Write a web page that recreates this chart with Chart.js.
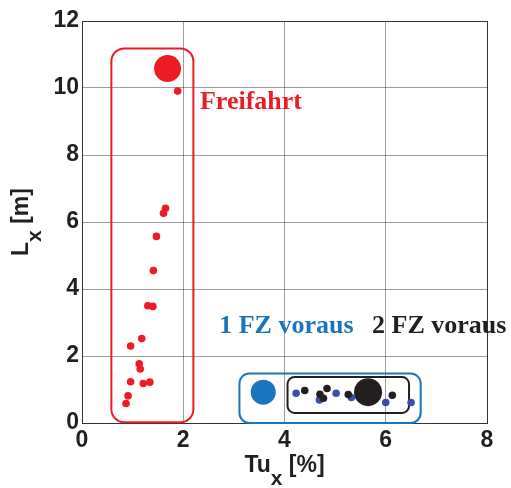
<!DOCTYPE html>
<html>
<head>
<meta charset="utf-8">
<script src="https://cdn.jsdelivr.net/npm/chart.js@4.4.1/dist/chart.umd.min.js"></script>
<style>
  html, body { margin: 0; padding: 0; background: #fff; }
</style>
</head>
<body>
<canvas id="scatter" width="511" height="488"></canvas>
<script>
// --- Data ---
const xTicks = [0, 2, 4, 6, 8];
const yTicks = [0, 2, 4, 6, 8, 10, 12];

// Freifahrt
const freeX = [1.89, 1.65, 1.61, 1.47, 1.41, 1.30, 1.40, 1.18, 0.96, 1.13, 1.15, 0.96, 1.21, 1.34, 0.91, 0.87];
const freeY = [9.91, 6.41, 6.26, 5.57, 4.55, 3.50, 3.48, 2.52, 2.30, 1.77, 1.61, 1.23, 1.18, 1.22, 0.81, 0.58];
const freeMean = [1.69, 10.58];

// 1 FZ voraus
const oneX = [4.23, 4.69, 5.02, 5.32, 6.00, 6.50];
const oneY = [0.89, 0.69, 0.89, 0.76, 0.61, 0.61];
const oneMean = [3.58, 0.92];

// 2 FZ voraus
const twoX = [4.40, 4.84, 4.70, 4.77, 5.26, 6.13];
const twoY = [0.97, 1.03, 0.86, 0.74, 0.85, 0.83];
const twoMean = [5.65, 0.92];

// group frames [xMin, xMax, yMin, yMax]
const freeBox = [0.58, 2.20, 0.02, 11.18];
const oneBox = [3.11, 6.69, 0.00, 1.48];
const twoBox = [4.06, 6.46, 0.30, 1.37];

// label anchors [x, y] (left, baseline)
const freeLabel = [2.33, 9.37];
const oneLabel = [2.71, 2.69];
const twoLabel = [5.73, 2.70];

const RED = '#ED1C24';
const BLUE = '#1B75BC';
const DOTBLUE = '#3950A6';
const BLACK = '#231F20';

function toPoints(xs, ys) {
    return xs.map((x, i) => ({ x: x, y: ys[i] }));
}

function roundRect(ctx, x, y, w, h, r) {
    ctx.beginPath();
    ctx.moveTo(x + r, y);
    ctx.lineTo(x + w - r, y);
    ctx.arcTo(x + w, y, x + w, y + r, r);
    ctx.lineTo(x + w, y + h - r);
    ctx.arcTo(x + w, y + h, x + w - r, y + h, r);
    ctx.lineTo(x + r, y + h);
    ctx.arcTo(x, y + h, x, y + h - r, r);
    ctx.lineTo(x, y + r);
    ctx.arcTo(x, y, x + r, y, r);
    ctx.closePath();
}

// --- frames around the groups, behind the points ---
const framesPlugin = {
    id: 'frames',
    beforeDatasetsDraw(chart) {
        const { ctx, scales: { x, y } } = chart;
        const frames = [[freeBox, RED, 13], [oneBox, BLUE, 10], [twoBox, BLACK, 7]];
        ctx.save();
        ctx.lineWidth = 2;
        frames.forEach(([b, color, r]) => {
            const left = x.getPixelForValue(b[0]);
            const right = x.getPixelForValue(b[1]);
            const bottom = y.getPixelForValue(b[2]);
            const top = y.getPixelForValue(b[3]);
            ctx.strokeStyle = color;
            roundRect(ctx, left, top, right - left, bottom - top, r);
            ctx.stroke();
        });
        ctx.restore();
    }
};

// --- group labels and axis titles with subscripts ---
function drawRich(ctx, parts, size, subSize, subDrop) {
    let total = 0;
    parts.forEach(p => {
        ctx.font = 'bold ' + (p.sub ? subSize : size) + 'px "Liberation Sans", Arial, sans-serif';
        p.w = ctx.measureText(p.t).width;
        total += p.w;
    });
    let cx = -total / 2;
    parts.forEach(p => {
        ctx.font = 'bold ' + (p.sub ? subSize : size) + 'px "Liberation Sans", Arial, sans-serif';
        ctx.fillText(p.t, cx, p.sub ? subDrop : 0);
        cx += p.w;
    });
}

const textPlugin = {
    id: 'texts',
    afterDraw(chart) {
        const { ctx, chartArea, scales: { x, y } } = chart;
        ctx.save();
        ctx.textBaseline = 'alphabetic';
        ctx.textAlign = 'left';
        ctx.font = 'bold 26px "Liberation Serif", "Times New Roman", serif';
        [[freeLabel, 'Freifahrt', RED], [oneLabel, '1 FZ voraus', BLUE], [twoLabel, '2 FZ voraus', BLACK]]
            .forEach(([pos, txt, color]) => {
                ctx.fillStyle = color;
                ctx.fillText(txt, x.getPixelForValue(pos[0]), y.getPixelForValue(pos[1]));
            });

        ctx.fillStyle = BLACK;
        // x title
        ctx.save();
        ctx.translate((chartArea.left + chartArea.right) / 2, 472);
        drawRich(ctx, [{ t: 'Tu' }, { t: 'x', sub: true }, { t: ' [%]' }], 23, 21, 13);
        ctx.restore();
        // y title
        ctx.save();
        ctx.translate(28, (chartArea.top + chartArea.bottom) / 2);
        ctx.rotate(-Math.PI / 2);
        drawRich(ctx, [{ t: 'L' }, { t: 'x', sub: true }, { t: ' [m]' }], 23, 21, 13);
        ctx.restore();
        ctx.restore();
    }
};

const tickFont = { family: '"Liberation Sans", Arial, sans-serif', size: 23, weight: 'bold' };

new Chart(document.getElementById('scatter'), {
    type: 'scatter',
    data: {
        datasets: [
            { data: toPoints(freeX, freeY), backgroundColor: RED, pointRadius: 3.8 },
            { data: [{ x: freeMean[0], y: freeMean[1] }], backgroundColor: RED, pointRadius: 13.5 },
            { data: [{ x: oneMean[0], y: oneMean[1] }], backgroundColor: BLUE, pointRadius: 12.5 },
            { data: toPoints(twoX, twoY), backgroundColor: BLACK, pointRadius: 3.8 },
            { data: toPoints(oneX, oneY), backgroundColor: DOTBLUE, pointRadius: 3.8 },
            { data: [{ x: twoMean[0], y: twoMean[1] }], backgroundColor: BLACK, pointRadius: 14 }
        ]
    },
    options: {
        responsive: false,
        animation: false,
        elements: { point: { borderWidth: 0, hoverRadius: 0 } },
        layout: { padding: { top: 21, right: 24, left: 0, bottom: 0 } },
        plugins: { legend: { display: false }, tooltip: { enabled: false } },
        scales: {
            x: {
                type: 'linear',
                min: 0,
                max: 8,
                afterBuildTicks: axis => { axis.ticks = xTicks.map(v => ({ value: v })); },
                afterFit: axis => { axis.height = 65; },
                ticks: { font: tickFont, color: BLACK, padding: 4, maxRotation: 0 },
                grid: {
                    drawTicks: false,
                    color: c => (c.tick && c.tick.value === 8) ? '#333' : 'rgba(0,0,0,0.38)',
                    lineWidth: 1
                },
                border: { color: '#333', width: 1 }
            },
            y: {
                type: 'linear',
                min: 0,
                max: 12,
                afterBuildTicks: axis => { axis.ticks = yTicks.map(v => ({ value: v })); },
                afterFit: axis => { axis.width = 82; },
                ticks: { font: tickFont, color: BLACK, padding: 3 },
                grid: {
                    drawTicks: false,
                    color: c => (c.tick && c.tick.value === 12) ? '#333' : 'rgba(0,0,0,0.38)',
                    lineWidth: 1
                },
                border: { color: '#333', width: 1 }
            }
        }
    },
    plugins: [framesPlugin, textPlugin]
});
</script>
</body>
</html>
